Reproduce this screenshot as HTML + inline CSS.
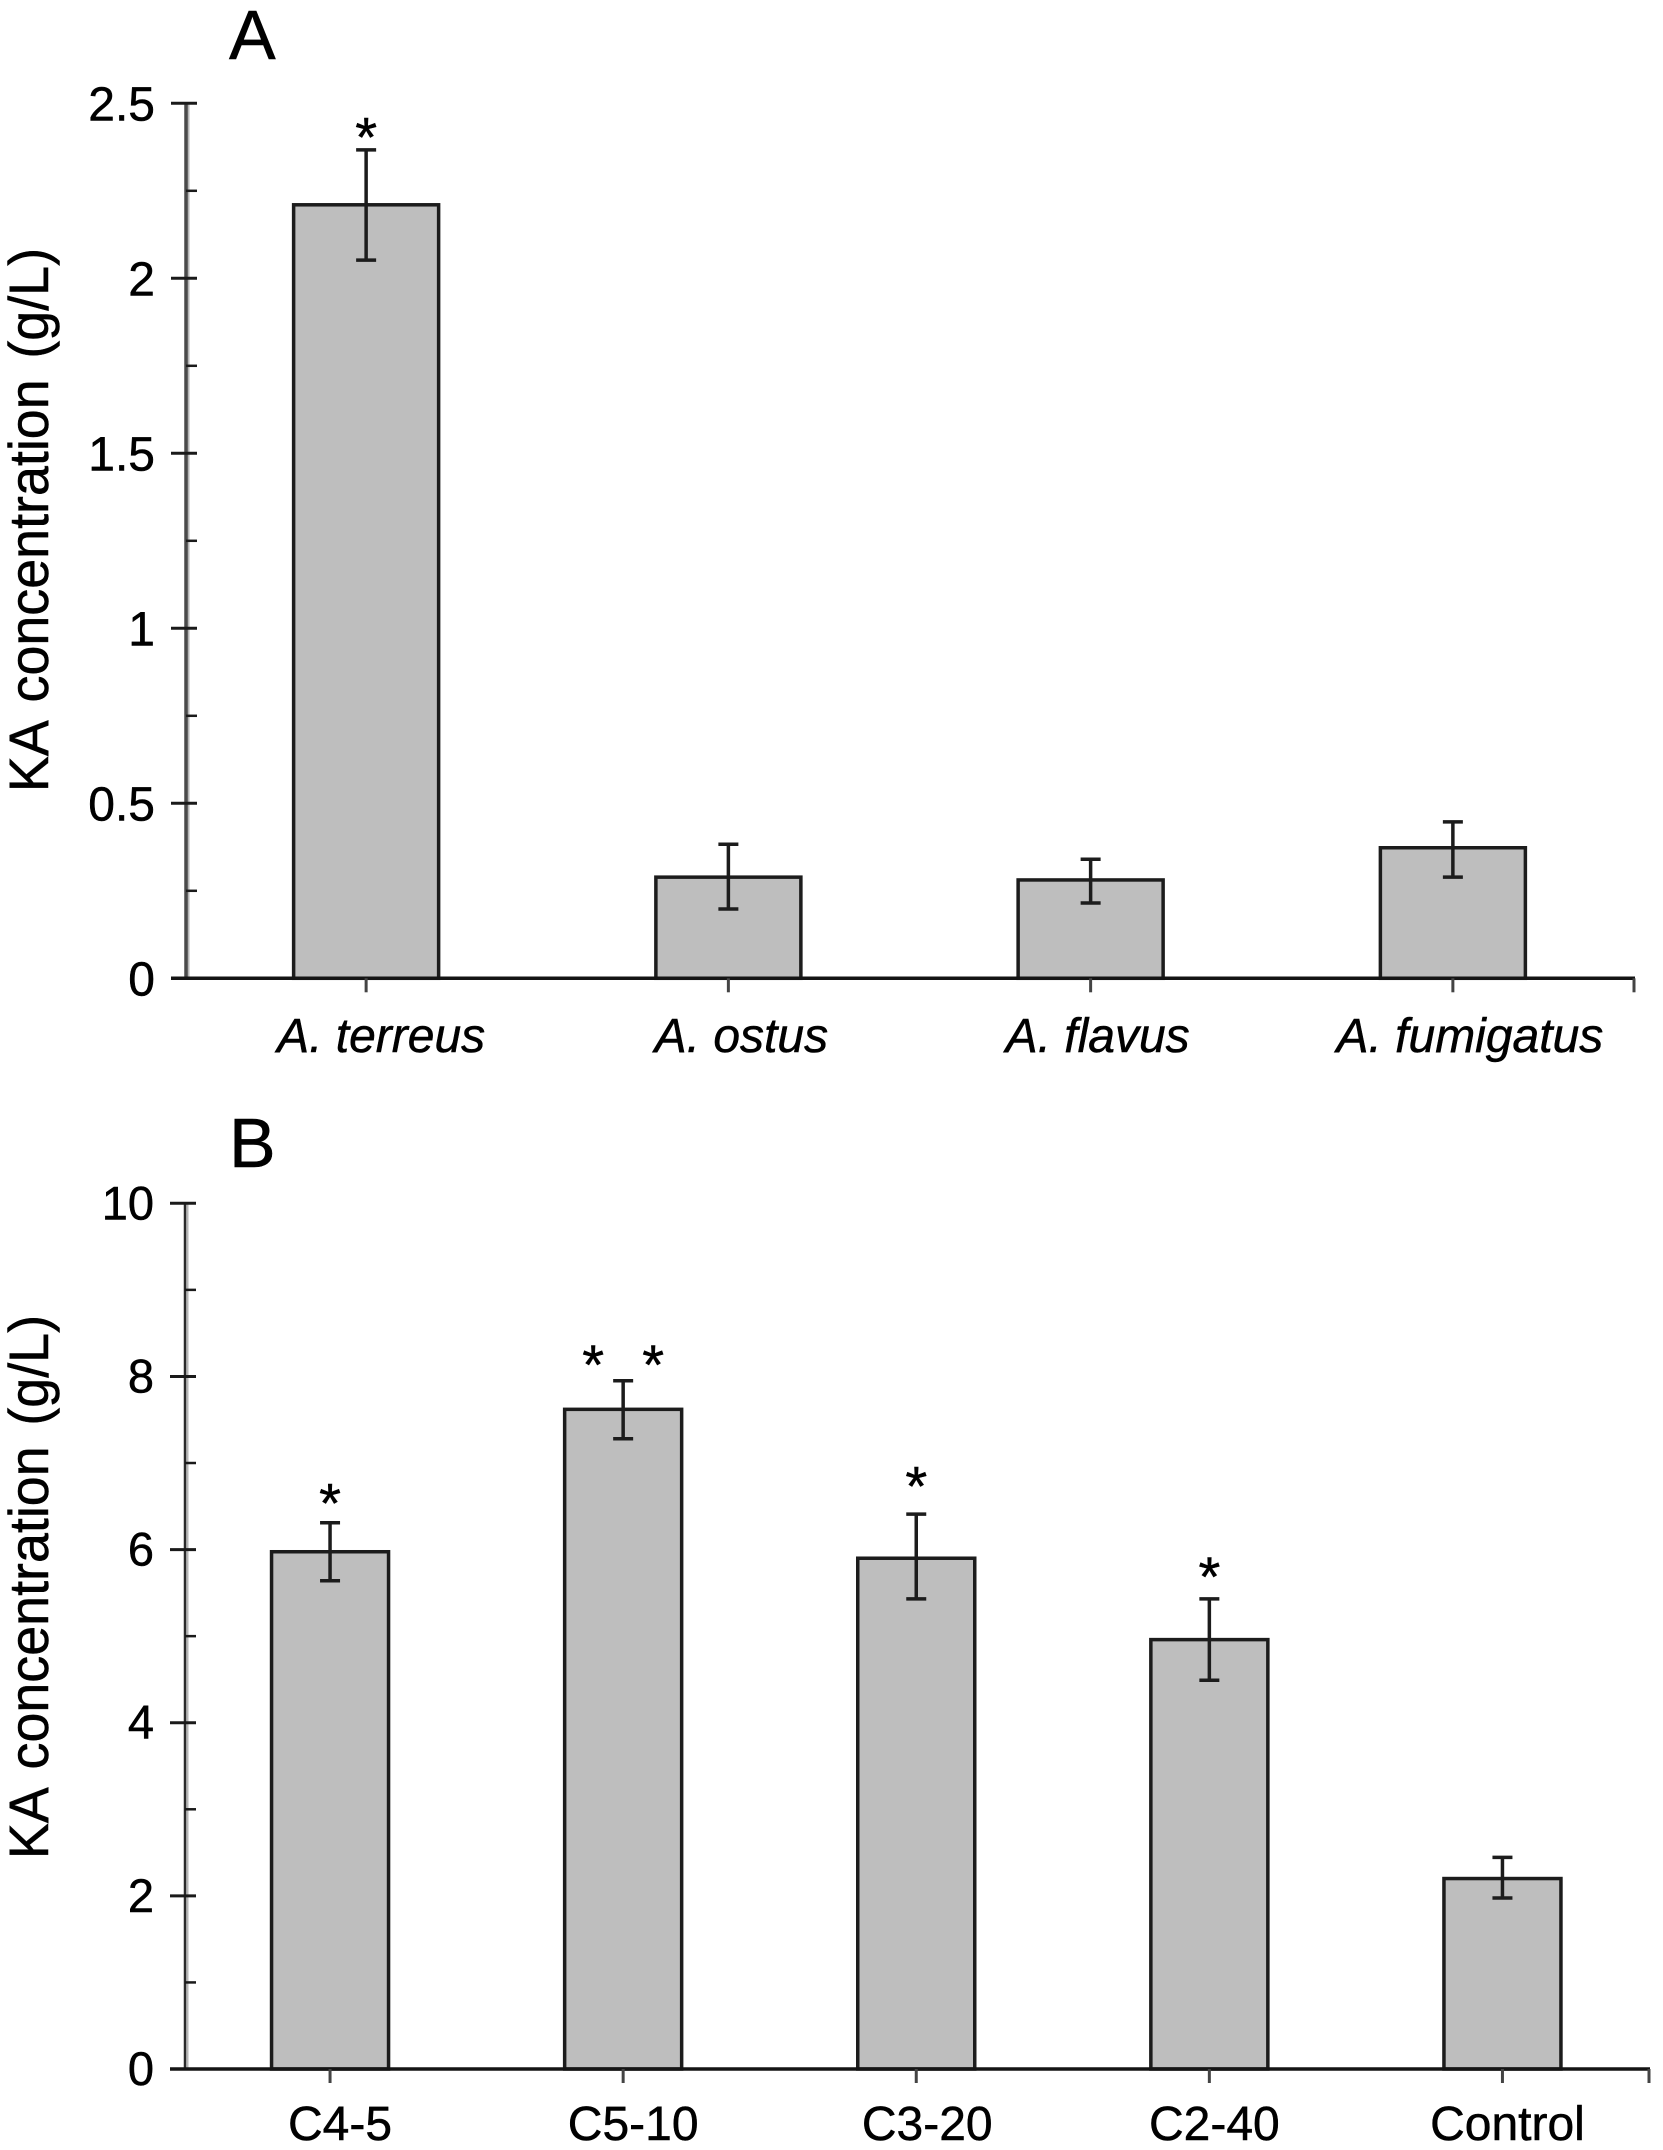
<!DOCTYPE html>
<html lang="en">
<head>
<meta charset="utf-8">
<title>KA concentration bar charts</title>
<style>
  html, body { margin: 0; padding: 0; background: #fff; }
  svg { display: block; }
  text { font-family: "Liberation Sans", Arial, sans-serif; fill: #000; stroke: #000; stroke-width: 0.5px; }
</style>
</head>
<body>
<svg id="figure" xmlns="http://www.w3.org/2000/svg" width="1663" height="2150" viewBox="0 0 1663 2150">
  <rect width="1663" height="2150" fill="#fff"/>
  <g id="panel-a">
    <text x="229" y="59" font-size="70">A</text>
    <text transform="translate(48,792) rotate(-90)" font-size="56" word-spacing="6" textLength="544" lengthAdjust="spacingAndGlyphs">KA concentration (g/L)</text>
  </g>
  <g id="panel-b">
    <text x="229" y="1167" font-size="70">B</text>
    <text transform="translate(48,1859) rotate(-90)" font-size="56" word-spacing="6" textLength="544" lengthAdjust="spacingAndGlyphs">KA concentration (g/L)</text>
  </g>
</svg>
<script>
// Panel A data
const speciesCategories = ["A. terreus", "A. ostus", "A. flavus", "A. fumigatus"];
const speciesValues = [2.21, 0.289, 0.281, 0.373];
const speciesErrorHigh = [2.367, 0.383, 0.34, 0.447];
const speciesErrorLow = [2.052, 0.198, 0.215, 0.289];
const speciesStars = [1, 0, 0, 0];
const speciesStarLevels = [2.42, 0, 0, 0];
const speciesTickValues = [0, 0.5, 1, 1.5, 2, 2.5];
const speciesTickLabels = ["0", "0.5", "1", "1.5", "2", "2.5"];
const speciesMinorTicks = [0.25, 0.75, 1.25, 1.75, 2.25];

// Panel B data
const cultureCategories = ["C4-5", "C5-10", "C3-20", "C2-40", "Control"];
const cultureValues = [5.975, 7.62, 5.9, 4.96, 2.2];
const cultureErrorHigh = [6.31, 7.95, 6.41, 5.43, 2.445];
const cultureErrorLow = [5.64, 7.28, 5.43, 4.49, 1.975];
const cultureStars = [1, 2, 1, 1, 0];
const cultureStarLevels = [6.6, 8.2, 6.8, 5.75, 0];
const cultureTickValues = [0, 2, 4, 6, 8, 10];
const cultureTickLabels = ["0", "2", "4", "6", "8", "10"];
const cultureMinorTicks = [1, 3, 5, 7, 9];

const SVG_NS = "http://www.w3.org/2000/svg";

function make(tag, attrs, parent) {
  const el = document.createElementNS(SVG_NS, tag);
  Object.keys(attrs).forEach(function (k) { el.setAttribute(k, attrs[k]); });
  parent.appendChild(el);
  return el;
}

function drawPanel(cfg) {
  const g = document.getElementById(cfg.id);
  const y = function (v) { return cfg.y0 - (v / cfg.yMax) * (cfg.y0 - cfg.yTop); };
  const bandW = (cfg.xRight - cfg.xLeft) / cfg.categories.length;
  const x = function (i) { return cfg.xLeft + bandW * (i + 0.5); };

  // bars
  cfg.values.forEach(function (v, i) {
    const top = y(v);
    const bar = make("rect", {
      x: x(i) - cfg.barW / 2, y: top, width: cfg.barW, height: cfg.y0 - top,
      fill: "#bebebe", stroke: "#1c1c1c", "stroke-width": 3.5
    }, g);
    
    
  });

  // y axis
  const axisShade = make("line", {
    x1: cfg.axisX + 2.5, x2: cfg.axisX + 2.5, y1: y(cfg.yMax), y2: cfg.y0,
    stroke: "#b5b5b5", "stroke-width": 2
  }, g);
  
  

  const yAxis = make("line", {
    x1: cfg.axisX, x2: cfg.axisX, y1: y(cfg.yMax), y2: cfg.y0,
    stroke: cfg.axisColor, "stroke-width": cfg.axisW
  }, g);
  
  

  cfg.tickValues.forEach(function (t, i) {
    const tick = make("line", {
      x1: cfg.axisX - 15, x2: cfg.axisX + 11, y1: y(t), y2: y(t),
      stroke: "#1a1a1a", "stroke-width": 3
    }, g);
    
    

    const label = make("text", {
      x: cfg.axisX - 31, y: y(t) + cfg.tickDy, "text-anchor": "end", "font-size": cfg.tickFont
    }, g);
    label.textContent = cfg.tickLabels[i];
    
    
  });

  cfg.minorTicks.forEach(function (t) {
    const tick = make("line", {
      x1: cfg.axisX, x2: cfg.axisX + 11, y1: y(t), y2: y(t),
      stroke: "#1a1a1a", "stroke-width": 2.5
    }, g);
    
    
  });

  // x axis
  const xAxis = make("line", {
    x1: cfg.axisX - 15, x2: cfg.xRight + 1, y1: cfg.y0, y2: cfg.y0,
    stroke: "#141414", "stroke-width": 3.5
  }, g);
  
  

  const endTick = make("line", {
    x1: cfg.xRight, x2: cfg.xRight, y1: cfg.y0, y2: cfg.y0 + 14,
    stroke: "#444", "stroke-width": 3
  }, g);
  
  

  cfg.categories.forEach(function (c, i) {
    const tick = make("line", {
      x1: x(i), x2: x(i), y1: cfg.y0, y2: cfg.y0 + 14,
      stroke: "#444", "stroke-width": 3
    }, g);
    
    

    const label = make("text", {
      x: x(i) + cfg.labelNudge[i], y: cfg.labelY, "text-anchor": "middle", "font-size": 48,
      "font-style": cfg.italic ? "italic" : "normal"
    }, g);
    label.textContent = c;
    
    

    // error bars
    const hi = y(cfg.errHigh[i]);
    const lo = y(cfg.errLow[i]);
    const stem = make("line", {
      x1: x(i), x2: x(i), y1: hi, y2: lo, stroke: "#1c1c1c", "stroke-width": 3.5
    }, g);
    
    

    const capTop = make("line", {
      x1: x(i) - 10, x2: x(i) + 10, y1: hi, y2: hi, stroke: "#1c1c1c", "stroke-width": 3.5
    }, g);
    
    

    const capBottom = make("line", {
      x1: x(i) - 10, x2: x(i) + 10, y1: lo, y2: lo, stroke: "#1c1c1c", "stroke-width": 3.5
    }, g);
    
    

    // significance stars
    for (let s = 0; s < cfg.stars[i]; s++) {
      const spread = cfg.stars[i] === 2 ? (s === 0 ? -30 : 30) : 0;
      const star = make("text", {
        x: x(i) + spread, y: y(cfg.starLevels[i]) + 25, "text-anchor": "middle", "font-size": 56,
        "stroke-width": 1.2
      }, g);
      star.textContent = "*";
      
      
    }
  });
}

drawPanel({
  id: "panel-a", categories: speciesCategories, values: speciesValues,
  errHigh: speciesErrorHigh, errLow: speciesErrorLow,
  stars: speciesStars, starLevels: speciesStarLevels,
  tickValues: speciesTickValues, tickLabels: speciesTickLabels, minorTicks: speciesMinorTicks,
  yMax: 2.5, yTop: 103.3, y0: 978.3, xLeft: 185, xRight: 1634, axisX: 186,
  axisW: 3.5, axisColor: "#4a4a4a", barW: 145, labelY: 1052, labelNudge: [15, 13, 7, 17],
  italic: true, tickDy: 17, tickFont: 48
});

drawPanel({
  id: "panel-b", categories: cultureCategories, values: cultureValues,
  errHigh: cultureErrorHigh, errLow: cultureErrorLow,
  stars: cultureStars, starLevels: cultureStarLevels,
  tickValues: cultureTickValues, tickLabels: cultureTickLabels, minorTicks: cultureMinorTicks,
  yMax: 10, yTop: 1203.3, y0: 2069, xLeft: 183.5, xRight: 1649, axisX: 185,
  axisW: 2.5, axisColor: "#2a2a2a", barW: 117, labelY: 2140, labelNudge: [10, 10, 11, 5, 5],
  italic: false, tickDy: 16, tickFont: 47
});
</script>
</body>
</html>
